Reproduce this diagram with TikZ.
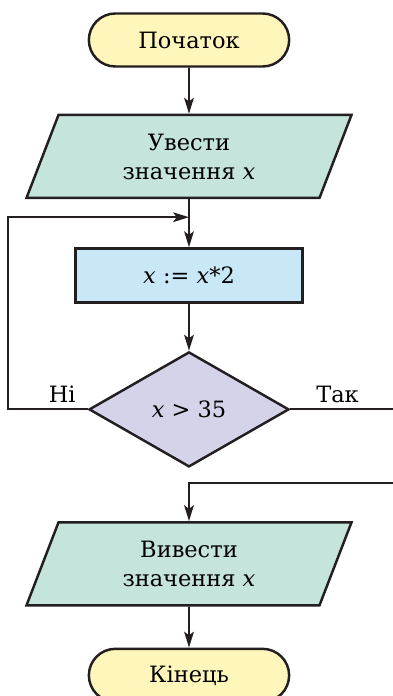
\documentclass[tikz,border=0pt]{standalone}
\usepackage{fontspec}
\setmainfont{DejaVu Serif}
\usepackage{xcolor}
\usepackage{tikz}
\usetikzlibrary{shapes,arrows.meta,positioning}

\definecolor{termfill}{HTML}{FFF6BC}
\definecolor{iofill}{HTML}{C5E4DB}
\definecolor{procfill}{HTML}{C8E8F8}
\definecolor{condfill}{HTML}{D5D3EA}
\definecolor{inkline}{HTML}{231F20}

\newcommand{\xv}{\textit{x}}

\begin{document}
\begin{tikzpicture}[
  font=\fontsize{12.8}{16.5}\selectfont,
  term/.style={rounded rectangle, draw=inkline, line width=1.4pt, fill=termfill, minimum width=4.24cm, minimum height=1.06cm},
  io/.style={trapezium, trapezium left angle=55, trapezium right angle=125, trapezium stretches body, draw=inkline, line width=1.4pt, fill=iofill, minimum width=6.5cm, minimum height=1.66cm, align=center, inner sep=0pt},
  proc/.style={rectangle, draw=inkline, line width=1.4pt, fill=procfill, minimum width=4.54cm, minimum height=1.08cm},
  cond/.style={diamond, draw=inkline, line width=1.4pt, fill=condfill, minimum width=4cm, minimum height=2.3cm, inner sep=0pt},
  arrow/.style={-{Stealth[length=9pt,width=5.5pt,inset=2pt]}, line width=1.1pt, draw=inkline},
  node distance=1cm
]
  \path[use as bounding box, clip] (-3.78,0.8) rectangle (4.08,-13.12);

  \node[term] (start) {Початок};
  \node[io, below=0.92cm of start] (input) {Увести\\значення \xv};
  \node[proc, below=0.96cm of input] (calc) {\xv\ := \xv*2};
  \node[cond, below=0.94cm of calc] (check) {\xv\ > 35};
  \node[io, below=1.06cm of check] (output) {Вивести\\значення \xv};
  \node[term, below=0.82cm of output] (stop) {Кінець};

  \coordinate[below=0.36cm of input.south] (join);

  \draw[arrow] (start) -- (input);
  \draw[arrow] (input) -- (calc);
  \draw[arrow] (calc) -- (check);
  \draw[arrow] (check.west) -- node[above, pos=0.32] {Ні} ++(-1.6,0) |- (join);
  \draw[arrow] (check.east) -- node[above, pos=0.43] {Так} ++(2.2,0) |- ([yshift=0.76cm]output.north) -- (output.north);
  \draw[arrow] (output) -- (stop);
\end{tikzpicture}
\end{document}
